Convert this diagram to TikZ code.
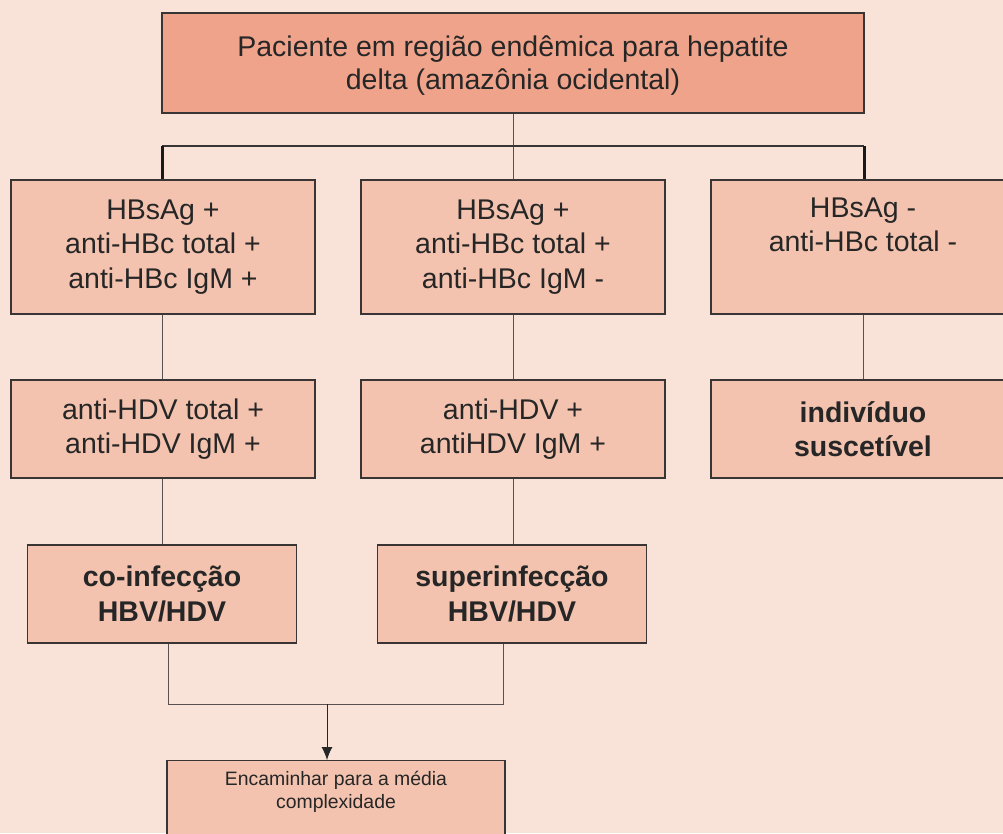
\documentclass[tikz,border=0pt]{standalone}
\usepackage{fontspec}
\setmainfont{Liberation Sans}
\usepackage{xcolor}
\usetikzlibrary{arrows.meta}

\definecolor{fundo}{HTML}{F9E3D9}
\definecolor{escuro}{HTML}{EFA38A}
\definecolor{claro}{HTML}{F3C3AF}
\definecolor{borda}{HTML}{3A3535}
\definecolor{linha}{HTML}{5A5050}

\tikzset{
    caixa/.style={draw=borda, line width=1.1pt, fill=claro, inner sep=0pt,
        align=center, text=black!85, font=\fontsize{28.5}{34.5}\selectfont},
    negrito/.style={caixa, font=\fontsize{28.5}{34.5}\selectfont\bfseries},
    liga/.style={draw=linha, line width=1pt},
    grossa/.style={draw=black!90, line width=3pt}
}

\begin{document}
\begin{tikzpicture}[x=1pt, y=-1pt]
            \fill[fundo] (0,0) rectangle (1003,833);
            \useasboundingbox (0,0) rectangle (1003,833);

            \node[caixa, fill=escuro, minimum width=702, minimum height=100] at (513,63) (paciente) {};
            \node[align=center, text=black!85, font=\fontsize{28.5}{33}\selectfont]
                at (513,66) (pacientetexto)
                {Paciente em região endêmica para hepatite\\delta (amazônia ocidental)};

            \node[caixa, minimum width=304, minimum height=134] at (163,247) (hbcigm)
                {HBsAg +\\anti-HBc total +\\anti-HBc IgM +};
            \node[caixa, minimum width=304, minimum height=134] at (513,247) (hbcsem)
                {HBsAg +\\anti-HBc total +\\anti-HBc IgM -};
            \node[caixa, minimum width=304, minimum height=134] at (863,247) (negativo)
                {HBsAg -\\anti-HBc total -\\\strut};

            \node[caixa, minimum width=304, minimum height=98] at (163,429) (hdvtotal)
                {anti-HDV total +\\anti-HDV IgM +};
            \node[caixa, minimum width=304, minimum height=98] at (513,429) (hdvigm)
                {anti-HDV +\\antiHDV IgM +};
            \node[negrito, minimum width=304, minimum height=98] at (863,429) (suscetivel)
                {indivíduo\\suscetível};

            \node[negrito, minimum width=269, minimum height=98] at (162,594) (coinf)
                {co-infecção\\HBV/HDV};
            \node[negrito, minimum width=269, minimum height=98] at (512,594) (superinf)
                {superinfecção\\HBV/HDV};

            \node[caixa, minimum width=338, minimum height=100, anchor=north] at (336,760) (encaminhar) {};
            \node[align=center, text=black!85, font=\fontsize{19.4}{23}\selectfont, anchor=north]
                at ([yshift=-8pt]encaminhar.north) (encaminhartexto)
                {Encaminhar para a média\\complexidade};

            \coordinate (ramo) at (513,146);
            \coordinate (junta) at (327,704);

            \draw[liga] (paciente.south) -- (ramo);
            \draw[liga] (ramo) -- (hbcsem.north);
            \draw[draw=borda, line width=1.5pt] ([xshift=-1pt]hbcigm.north |- ramo) -- ([xshift=1pt]negativo.north |- ramo);
            \draw[grossa] ([xshift=-1pt]hbcigm.north |- ramo) -- ([xshift=-1pt]hbcigm.north);
            \draw[grossa] ([xshift=1pt]negativo.north |- ramo) -- ([xshift=1pt]negativo.north);

            \draw[liga] ([xshift=-1pt]hbcigm.south) -- ([xshift=-1pt]hdvtotal.north);
            \draw[liga] (hbcsem.south) -- (hdvigm.north);
            \draw[liga] (negativo.south) -- (suscetivel.north);

            \draw[liga] ([xshift=-1pt]hdvtotal.south) -- ([xshift=0pt]coinf.north);
            \draw[liga] (hdvigm.south) -- ([xshift=1pt]superinf.north);

            \draw[liga] ([xshift=6pt]coinf.south) -- ([xshift=6pt]coinf.south |- junta)
                -- ([xshift=-9pt]superinf.south |- junta) -- ([xshift=-9pt]superinf.south);
            \draw[draw=black!85, line width=1pt, -{Latex[length=13pt, width=11pt]}] (junta) -- (junta |- encaminhar.north);
        \end{tikzpicture}
\end{document}
